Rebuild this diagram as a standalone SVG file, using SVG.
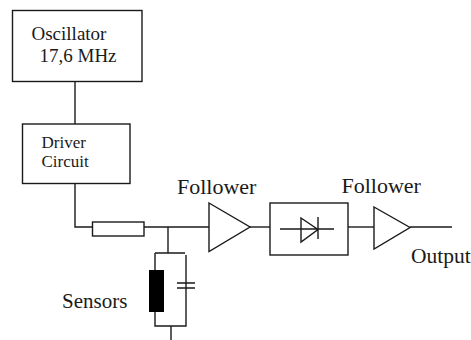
<svg xmlns="http://www.w3.org/2000/svg" width="471" height="340" viewBox="0 0 471 340">
<style>
.s{fill:#fff;stroke:#1a1a1a;stroke-width:1.4}
.l{fill:none;stroke:#1a1a1a;stroke-width:1.4}
text{font-family:"Liberation Serif",serif;fill:#1a1a1a}
</style>
<rect width="471" height="340" fill="#fff"/>
<g id="connectors">
<path class="l" d="M75 81V124"/>
<path class="l" d="M75 183V227H93"/>
<path class="l" d="M144 227H209"/>
<path class="l" d="M168 227V253"/>
<path class="l" d="M155 253H185M155 253V270M155 312V326H186V255M171 326V340"/>
<path class="l" d="M250 227H270"/>
<path class="l" d="M348 227H374"/>
<path class="l" d="M410 227H452"/>
</g>
<g id="oscillator"><rect class="s" x="12.500" y="10.500" width="129.500" height="71"/>
<text x="31.500" y="39.500" font-size="19">Oscillator</text><text x="39.500" y="61.500" font-size="19">17,6 MHz</text></g>
<g id="driver"><rect class="s" x="22.500" y="124" width="107.500" height="59.500"/>
<text x="41.500" y="148" font-size="17">Driver</text><text x="41.500" y="167" font-size="17">Circuit</text></g>
<g id="resistor"><rect class="s" x="92.500" y="222" width="51.500" height="14"/></g>
<g id="sensors"><rect x="149" y="270" width="15" height="42" fill="#000"/>
<path class="l" d="M177 283H195M177 288H195"/>
<text x="62" y="308" font-size="21">Sensors</text></g>
<g id="follower1"><path class="s" d="M209 203L250 227L209 251.500Z"/><text x="177" y="194" font-size="22">Follower</text></g>
<g id="demodulator"><rect class="s" x="270" y="203" width="78" height="52"/>
<path class="l" d="M280 229H334M301 218V242L318 229.500ZM318 217V239"/></g>
<g id="follower2"><path class="s" d="M374 207L410 227.500L374 249Z"/><text x="341.500" y="193" font-size="22">Follower</text></g>
<g id="output"><text x="411" y="263" font-size="21.500">Output</text></g>
</svg>
